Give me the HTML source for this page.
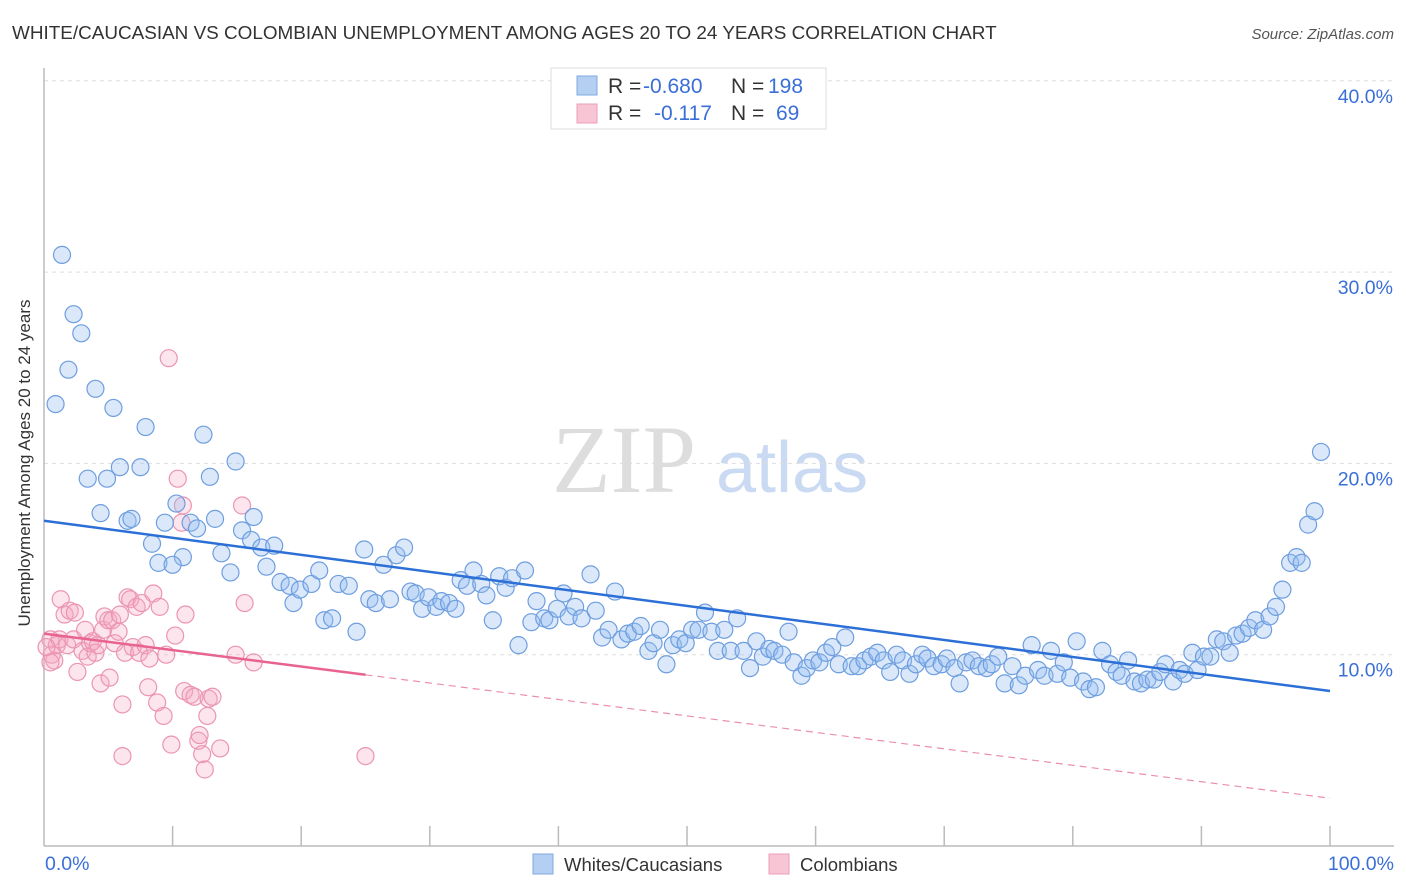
<!DOCTYPE html>
<html><head><meta charset="utf-8">
<style>
body{margin:0;background:#fff;font-family:"Liberation Sans",sans-serif;}
svg{display:block}
</style></head>
<body>
<svg id="chart" width="1406" height="892" xmlns="http://www.w3.org/2000/svg">
<text x="12" y="39" font-size="18.9" fill="#333">WHITE/CAUCASIAN VS COLOMBIAN UNEMPLOYMENT AMONG AGES 20 TO 24 YEARS CORRELATION CHART</text>
<text x="1394" y="39" font-size="15" fill="#555" font-style="italic" text-anchor="end">Source: ZipAtlas.com</text>
<g>
<text x="552" y="492" font-family="Liberation Serif,serif" font-size="96" fill="#ddd">ZIP</text>
<text x="716" y="492" font-size="72" fill="#c9daf2">atlas</text>
</g>
<g id="grid"></g>
<g id="axes"></g>
<g id="pink"></g>
<g id="blue"></g>
<g id="trends"></g>
<text x="22" y="455" font-size="17" fill="#333" text-anchor="middle" transform="rotate(-90 30 455)">Unemployment Among Ages 20 to 24 years</text>
<g>
<rect x="551" y="68" width="275" height="61" fill="#fff" stroke="#ddd"/>
<rect x="577" y="76" width="20" height="19" fill="#b5cff2" stroke="#7fa9e0"/>
<rect x="577" y="104" width="20" height="19" fill="#f8c5d5" stroke="#eb9fb8"/>
<text x="608" y="93" font-size="21" fill="#333">R =</text><text x="643" y="93" font-size="21" fill="#3a6fd8">-0.680</text>
<text x="731" y="93" font-size="21" fill="#333">N =</text><text x="768" y="93" font-size="21" fill="#3a6fd8">198</text>
<text x="608" y="120" font-size="21" fill="#333">R =</text><text x="654" y="120" font-size="21" fill="#3a6fd8">-0.117</text>
<text x="731" y="120" font-size="21" fill="#333">N =</text><text x="776" y="120" font-size="21" fill="#3a6fd8">69</text>
</g>
<g>
<rect x="533" y="854" width="20" height="20" fill="#b5cff2" stroke="#7fa9e0"/>
<text x="564" y="871" font-size="18.5" fill="#333">Whites/Caucasians</text>
<rect x="769" y="854" width="20" height="20" fill="#f8c5d5" stroke="#eb9fb8"/>
<text x="800" y="871" font-size="18.5" fill="#333">Colombians</text>
</g>
</svg>
<script>
const yTicks=[10,20,30,40];
const yTickLabels=["10.0%","20.0%","30.0%","40.0%"];
const xTickLabels=["0.0%","100.0%"];
const blueX=[1.4,2.3,2.9,1.9,4.0,0.9,5.4,7.9,12.4,3.4,5.9,7.5,4.9,12.9,14.9,4.4,6.5,6.8,10.3,9.4,11.4,11.9,13.3,15.4,16.3,16.1,8.4,10.8,8.9,10.0,13.8,14.5,16.9,17.3,17.9,18.4,19.1,19.4,19.9,20.8,21.4,21.8,22.4,22.9,23.7,24.3,24.9,25.3,25.8,26.4,26.9,27.4,28.0,28.5,28.9,29.4,29.9,30.5,30.9,31.5,32.0,32.4,32.9,33.4,34.0,34.4,34.9,35.4,35.9,36.4,36.9,37.4,37.9,38.3,38.9,39.3,39.9,40.4,40.8,41.3,41.8,42.5,42.9,43.4,43.9,44.4,44.9,45.4,45.9,46.4,47.0,47.4,47.9,48.4,48.9,49.4,49.9,50.4,50.9,51.4,51.9,52.4,52.9,53.4,53.9,54.4,54.9,55.4,55.9,56.4,56.8,57.4,57.9,58.3,58.9,59.3,59.8,60.3,60.8,61.3,61.8,62.3,62.8,63.3,63.8,64.3,64.8,65.3,65.8,66.3,66.8,67.3,67.8,68.3,68.7,69.2,69.8,70.2,70.8,71.2,71.7,72.2,72.7,73.3,73.7,74.2,74.7,75.3,75.8,76.3,76.8,77.3,77.8,78.3,78.8,79.3,79.8,80.3,80.8,81.3,81.8,82.3,82.9,83.4,83.8,84.3,84.8,85.3,85.8,86.3,86.8,87.2,87.8,88.3,88.7,89.3,89.7,90.2,90.7,91.2,91.7,92.2,92.7,93.2,93.7,94.2,94.8,95.3,95.8,96.3,96.9,97.4,97.8,98.3,98.8,99.3];
const blueY=[30.9,27.8,26.8,24.9,23.9,23.1,22.9,21.9,21.5,19.2,19.8,19.8,19.2,19.3,20.1,17.4,17.0,17.1,17.9,16.9,16.9,16.6,17.1,16.5,17.2,16.0,15.8,15.1,14.8,14.7,15.3,14.3,15.6,14.6,15.7,13.8,13.6,12.7,13.4,13.7,14.4,11.8,11.9,13.7,13.6,11.2,15.5,12.9,12.7,14.7,12.9,15.2,15.6,13.3,13.2,12.4,13.0,12.5,12.8,12.7,12.4,13.9,13.6,14.4,13.7,13.1,11.8,14.1,13.5,14.0,10.5,14.4,11.7,12.8,11.9,11.8,12.4,13.2,12.0,12.5,11.9,14.2,12.3,10.9,11.3,13.3,10.8,11.1,11.2,11.5,10.2,10.6,11.3,9.5,10.5,10.8,10.6,11.3,11.3,12.2,11.2,10.2,11.3,10.2,11.9,10.2,9.3,10.7,9.9,10.3,10.2,10.0,11.2,9.6,8.9,9.3,9.7,9.6,10.1,10.4,9.5,10.9,9.4,9.4,9.7,9.9,10.1,9.7,9.1,10.0,9.7,9.0,9.5,10.0,9.8,9.4,9.5,9.8,9.3,8.5,9.6,9.7,9.4,9.3,9.5,9.9,8.5,9.4,8.4,8.9,10.5,9.2,8.9,10.2,9.0,9.6,8.8,10.7,8.6,8.2,8.3,10.2,9.5,9.1,8.9,9.7,8.6,8.5,8.7,8.7,9.1,9.5,8.6,9.2,9.0,10.1,9.2,9.9,9.9,10.8,10.7,10.1,11.0,11.1,11.4,11.8,11.3,12.0,12.5,13.4,14.8,15.1,14.8,16.8,17.5,20.6];
const pinkX=[0.5,0.6,0.8,1.0,1.2,0.5,0.2,1.3,1.6,1.8,2.0,2.3,2.4,2.6,3.0,3.2,3.4,3.6,3.8,4.0,4.2,4.4,4.6,4.7,5.0,5.1,5.3,5.5,5.8,5.9,6.1,6.3,6.5,6.7,6.9,7.2,7.4,7.6,7.9,8.1,8.2,8.5,8.8,9.0,9.3,9.5,9.7,9.9,10.2,10.4,10.8,10.9,11.0,11.4,11.7,12.0,12.1,12.3,12.5,12.7,12.8,13.1,13.7,14.9,15.4,15.6,16.3,25.0,6.1,10.7];
const pinkY=[10.8,10.0,9.7,10.5,10.8,9.6,10.4,12.9,12.1,10.5,12.3,10.8,12.2,9.1,10.2,11.3,9.9,10.6,10.7,10.1,10.5,8.5,11.3,12.0,11.8,8.8,11.8,10.6,11.2,12.1,7.4,10.1,13.0,12.9,10.4,12.5,10.1,12.7,10.5,8.3,9.8,13.2,7.5,12.5,6.8,10.0,25.5,5.3,11.0,19.2,17.8,8.1,12.1,7.9,7.8,5.5,5.8,4.8,4.0,6.8,7.7,7.8,5.1,10.0,17.8,12.7,9.6,4.7,4.7,16.9];
const blueTrend=[17.0,8.1];
const pinkTrend=[11.1,2.5];
const pinkSolidEnd=25;

const NS="http://www.w3.org/2000/svg";
const X=v=>44+v*12.86, Y=v=>846-v*19.13;
function mk(tag,attrs,parent){const e=document.createElementNS(NS,tag);for(const k in attrs)e.setAttribute(k,attrs[k]);parent.appendChild(e);return e;}
const grid=document.getElementById('grid'),axes=document.getElementById('axes');
yTicks.forEach((t,i)=>{
  const l=mk('line',{x1:44,x2:1394,y1:Y(t),y2:Y(t),stroke:'#ddd','stroke-dasharray':'4,4'},grid);
  
  
  const tx=mk('text',{x:1393,y:Y(t)+22,'font-size':19.5,fill:'#3a6fd8','text-anchor':'end'},grid);
  tx.textContent=yTickLabels[i];
  
  
});
const ya=mk('line',{x1:44,x2:44,y1:68,y2:846,stroke:'#bbb','stroke-width':1.5},axes);


const xa=mk('line',{x1:44,x2:1394,y1:846,y2:846,stroke:'#bbb','stroke-width':1.5},axes);


for(let k=1;k<=10;k++){
  const t=mk('line',{x1:X(k*10),x2:X(k*10),y1:826,y2:846,stroke:'#bbb','stroke-width':1.5},axes);
  
  
}
const xl0=mk('text',{x:45,y:870,'font-size':19.5,fill:'#3a6fd8'},axes);xl0.textContent=xTickLabels[0];


const xl1=mk('text',{x:1394,y:870,'font-size':19.5,fill:'#3a6fd8','text-anchor':'end'},axes);xl1.textContent=xTickLabels[1];



const pg=document.getElementById('pink');
pinkX.forEach((v,i)=>{
  const c=mk('circle',{cx:X(v),cy:Y(pinkY[i]),r:8.5,fill:'rgba(246,170,196,0.3)',stroke:'#eb95b2','stroke-width':1.2},pg);
  
  
});
const bg=document.getElementById('blue');
blueX.forEach((v,i)=>{
  const c=mk('circle',{cx:X(v),cy:Y(blueY[i]),r:8.5,fill:'rgba(150,190,240,0.35)',stroke:'#6e9edf','stroke-width':1.2},bg);
  
  
});
const tg=document.getElementById('trends');
const bt=mk('line',{x1:X(0),y1:Y(blueTrend[0]),x2:X(100),y2:Y(blueTrend[1]),stroke:'#2c6fd6','stroke-width':2.5},tg);


const pAt=x=>pinkTrend[0]+(pinkTrend[1]-pinkTrend[0])*x/100;
const ps=mk('line',{x1:X(0),y1:Y(pAt(0)),x2:X(pinkSolidEnd),y2:Y(pAt(pinkSolidEnd)),stroke:'#e8648f','stroke-width':2.5},tg);


const pd=mk('line',{x1:X(pinkSolidEnd),y1:Y(pAt(pinkSolidEnd)),x2:X(100),y2:Y(pAt(100)),stroke:'#eb8fae','stroke-width':1.2,'stroke-dasharray':'7,5'},tg);


</script>
</body></html>
